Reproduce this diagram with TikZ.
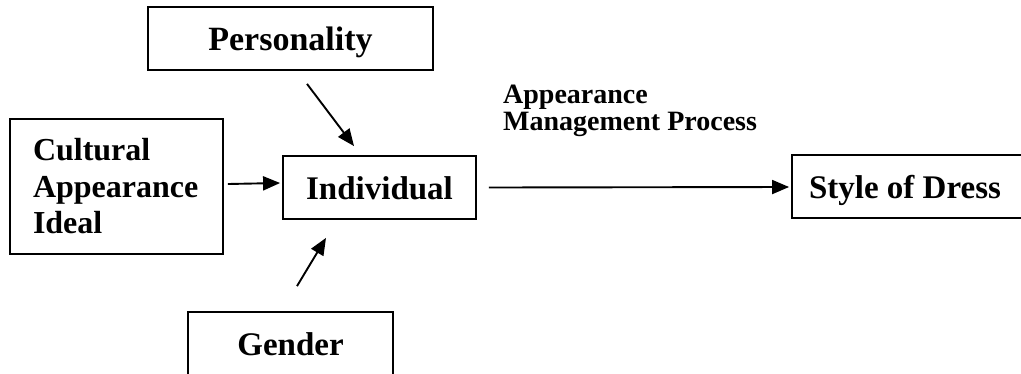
\documentclass[tikz,border=0pt]{standalone}
\usepackage{fontspec}
\setmainfont{Liberation Serif}
\usetikzlibrary{arrows.meta}
\begin{document}
\begin{tikzpicture}[x=1pt,y=-1pt,
  boxbase/.style={draw, line width=1.8pt, inner sep=0pt, font=\fontsize{33}{36.5}\selectfont\bfseries},
  box/.style={boxbase, text height=24pt, text depth=0pt},
  arr/.style={line width=1.9pt, -{Triangle[length=17pt,width=14pt]}},
  lbl/.style={font=\fontsize{28}{27}\selectfont\bfseries, align=left, inner sep=0pt}]
\useasboundingbox (0,0) rectangle (1021,373);
\clip (0,0) rectangle (1021,373);
\node[box, minimum width=285pt, minimum height=63pt, font=\fontsize{34}{36.5}\selectfont\bfseries] (pers) at (290.5,38.5) {Personality};
\node[boxbase, minimum width=213pt, minimum height=135pt, align=left, text width=167pt, font=\fontsize{32}{36.5}\selectfont\bfseries] (cult) at (116.5,186.5) {Cultural\\Appearance\\Ideal};
\node[box, minimum width=193pt, minimum height=63pt] (ind) at (379.5,187.5) {Individual};
\node[box, minimum width=205pt, minimum height=63pt] (gen) at (290.5,343.5) {Gender};
\node[box, minimum width=240pt, minimum height=63pt] (sty) at (912,186.5) {Style of Dress\hspace*{14pt}};
\node[lbl, anchor=north west] (lab) at (503,85) {Appearance\\Management Process};
\draw[arr] ([shift={(16.5,13)}]pers.south) -- ([shift={(-25.5,-9)}]ind.north);
\draw[arr] ([shift={(4,-2.5)}]cult.east) -- ([shift={(-2,-4.5)}]ind.west);
\draw[arr] ([shift={(6.5,-25)}]gen.north) -- ([shift={(-53.5,18)}]ind.south);
\draw[arr] ([shift={(12,0)}]ind.east) -- ([shift={(-2,0.5)}]sty.west);
\end{tikzpicture}
\end{document}
